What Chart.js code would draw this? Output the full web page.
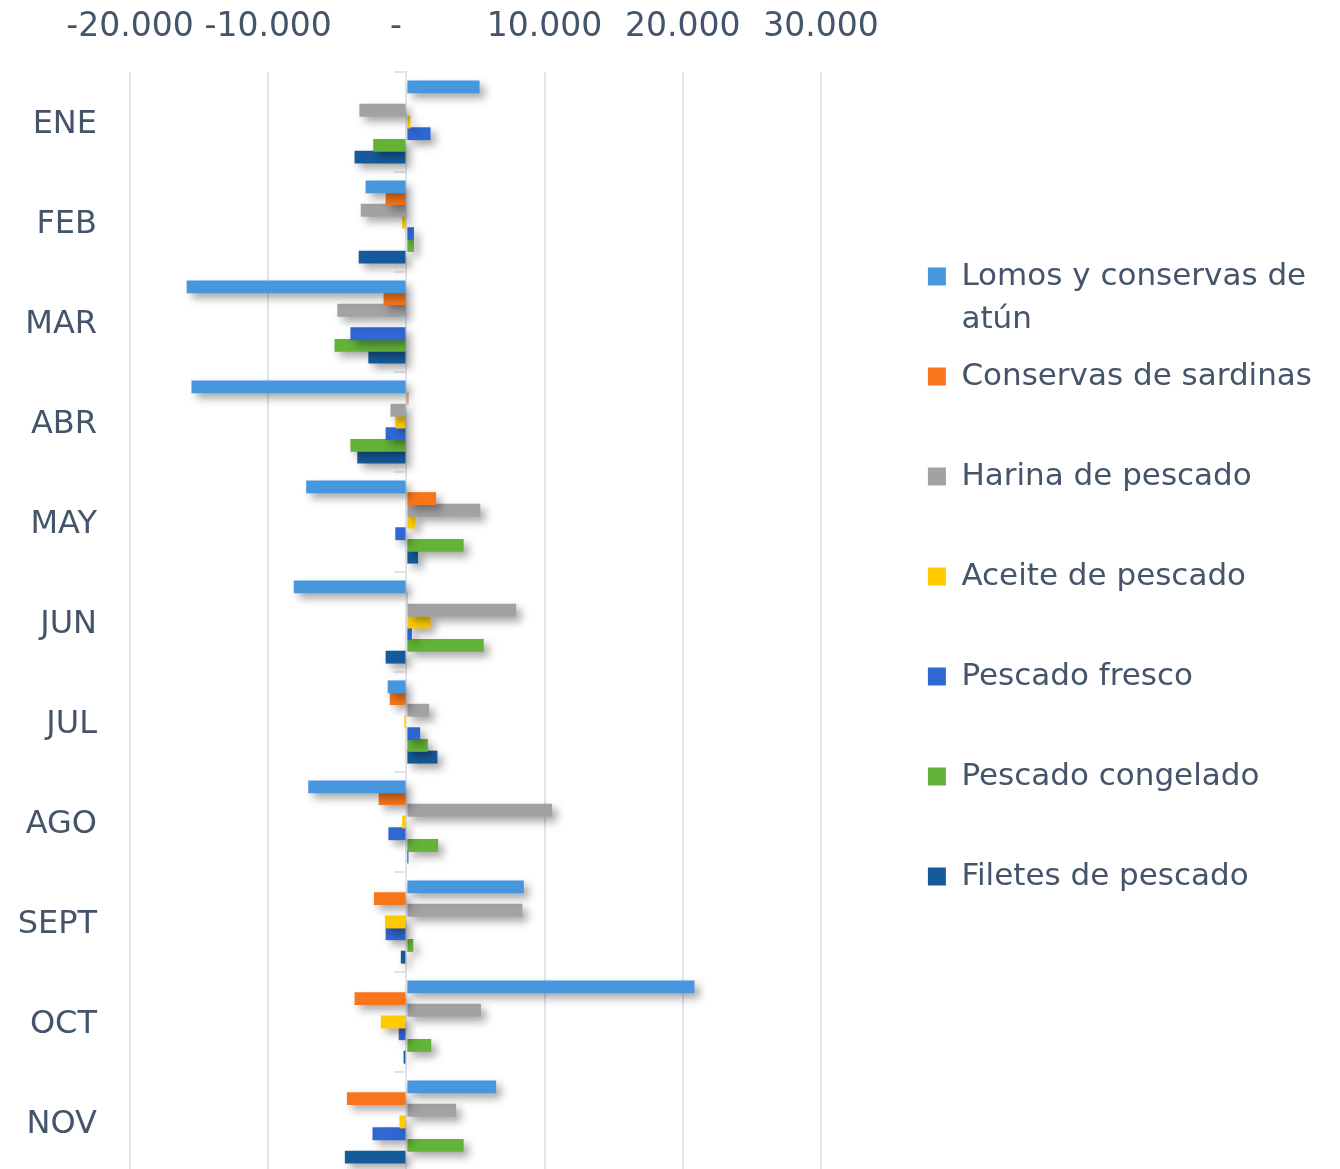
<!DOCTYPE html>
<html>
<head>
<meta charset="utf-8">
<script src="https://cdn.jsdelivr.net/npm/chart.js@4.4.1/dist/chart.umd.min.js"></script>
<style>
  html, body { margin: 0; padding: 0; background: #ffffff; overflow: hidden; }
  #wrap { position: relative; width: 1340px; height: 1173px; }
</style>
</head>
<body>
<div id="wrap"><canvas id="c"></canvas></div>
<script>
// ---- data ----
const months = ['ENE', 'FEB', 'MAR', 'ABR', 'MAY', 'JUN', 'JUL', 'AGO', 'SEPT', 'OCT', 'NOV'];
const seriesNames = ['Lomos y conservas de atún', 'Conservas de sardinas', 'Harina de pescado',
  'Aceite de pescado', 'Pescado fresco', 'Pescado congelado', 'Filetes de pescado'];
const legendLines = [['Lomos y conservas de', 'atún'], ['Conservas de sardinas', ''], ['Harina de pescado', ''],
  ['Aceite de pescado', ''], ['Pescado fresco', ''], ['Pescado congelado', ''], ['Filetes de pescado', '']];

const lomosAtun   = [5300, -2950, -15900, -15550, -7250, -8150, -1350, -7100, 8500, 20850, 6500];
const sardinas    = [0, -1500, -1650, 150, 2150, 100, -1200, -2000, -2350, -3750, -4300];
const harina      = [-3400, -3300, -5000, -1150, 5350, 7950, 1650, 10550, 8400, 5400, 3600];
const aceite      = [300, -300, -80, -800, 650, 1750, -150, -300, -1550, -1850, -500];
const fresco      = [1750, 550, -4050, -1500, -800, 400, 1000, -1300, -1500, -550, -2450];
const congelado   = [-2400, 550, -5200, -4050, 4150, 5600, 1550, 2300, 500, 1800, 4150];
const filetes     = [-3750, -3450, -2750, -3550, 850, -1500, 2250, 150, -400, -200, -4450];

const xTicks = [-20000, -10000, 0, 10000, 20000, 30000];
const seriesColors = ['#4797de', '#f8751b', '#a2a2a2', '#ffcb00', '#2f67d3', '#64b238', '#165a9b'];
const seriesValues = [lomosAtun, sardinas, harina, aceite, fresco, congelado, filetes];

const textColor = '#44546a';
const gridColor = '#e0e4eb';
const FONT = "'DejaVu Sans', sans-serif";

function fmt(v) {
  if (v === 0) return '-  ';
  const s = Math.abs(v).toFixed(0).replace(/\B(?=(\d{3})+(?!\d))/g, '.');
  return (v < 0 ? '-' : '') + s;
}

const shadowPlugin = {
  id: 'barShadow',
  beforeDatasetsDraw(chart) {
    const ctx = chart.ctx;
    ctx.save();
    ctx.shadowColor = 'rgba(0,0,0,0.35)';
    ctx.shadowBlur = 8;
    ctx.shadowOffsetX = 5;
    ctx.shadowOffsetY = 5;
  },
  afterDatasetsDraw(chart) {
    chart.ctx.restore();
  }
};

const datasets = seriesNames.map((name, i) => ({
  label: name,
  data: seriesValues[i],
  backgroundColor: seriesColors[i],
  borderWidth: 0,
  yAxisID: 'y',
  xAxisID: 'x',
  categoryPercentage: 0.82,
  barPercentage: 1.1
}));

new Chart(document.getElementById('c'), {
  type: 'bar',
  data: { labels: months, datasets },
  plugins: [shadowPlugin],
  options: {
    indexAxis: 'y',
    responsive: true,
    maintainAspectRatio: false,
    animation: false,
    layout: { padding: { top: 0, right: 18, bottom: 0, left: 0 } },
    scales: {
      x: {
        type: 'linear',
        position: 'top',
        min: -20000,
        max: 30000,
        afterBuildTicks(scale) { scale.ticks = xTicks.map(v => ({ value: v })); },
        afterFit(scale) { scale.height = 72; },
        grid: { color: gridColor, lineWidth: 2, drawTicks: false },
        border: { display: false },
        ticks: {
          color: textColor,
          font: { family: FONT, size: 33 },
          padding: 25,
          maxRotation: 0,
          callback: (v) => fmt(v)
        }
      },
      y: {
        type: 'category',
        position: 'left',
        offset: true,
        afterFit(scale) { scale.width = 130; },
        grid: { display: false, drawTicks: true, tickLength: 33 },
        border: { display: false },
        ticks: { color: textColor, font: { family: FONT, size: 32, lineHeight: '2px' }, padding: 0, labelOffset: 3 }
      },
      y2: {
        type: 'category',
        labels: months,
        position: { x: 0 },
        offset: true,
        grid: { offset: true, drawOnChartArea: false, drawTicks: true, tickLength: 11, color: gridColor, lineWidth: 2 },
        border: { display: true, color: gridColor, width: 2 },
        ticks: { display: false }
      },
      yR: {
        type: 'category',
        labels: months,
        position: 'right',
        afterFit(scale) { scale.width = 93; },
        grid: { display: false, drawTicks: false },
        border: { display: false },
        ticks: { display: false }
      }
    },
    plugins: {
      tooltip: { enabled: false },
      legend: {
        position: 'right',
        align: 'center',
        maxWidth: 430,
        title: { display: true, text: '', padding: { top: 25, bottom: 0 }, font: { size: 10, lineHeight: '10px' } },
        labels: {
          boxWidth: 18,
          boxHeight: 18,
          padding: 14,
          color: textColor,
          font: { family: FONT, size: 31, lineHeight: '43px' },
          generateLabels(chart) {
            const items = Chart.defaults.plugins.legend.labels.generateLabels(chart);
            items.forEach((it, i) => { it.text = legendLines[i]; it.lineWidth = 0; });
            return items;
          }
        }
      }
    }
  }
});
</script>
</body>
</html>
